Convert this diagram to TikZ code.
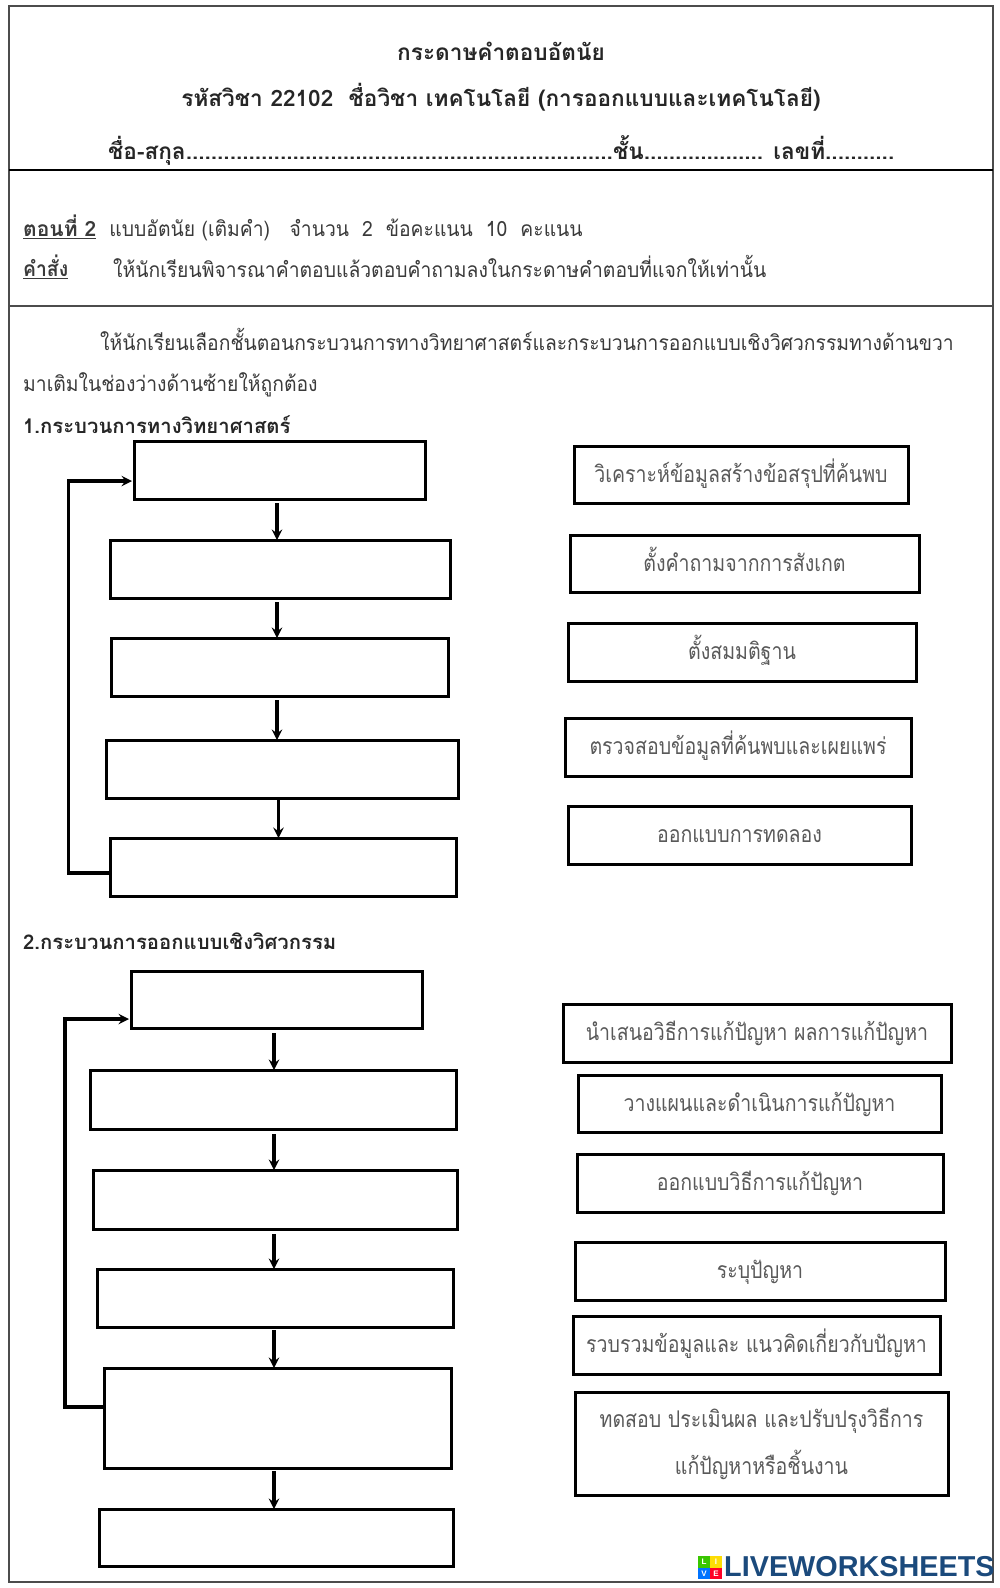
\documentclass[tikz,border=0pt]{standalone}
\usepackage{fontspec}
\setmainfont[Script=Thai]{Loma}
\newfontfamily\corpsfont[Script=Thai,FakeStretch=0.92]{Loma}
\newfontfamily\choixfont[Script=Thai,FakeStretch=0.85]{Loma}
\newfontfamily\logofont{Liberation Sans}
\usetikzlibrary{shapes,arrows,shadows}
\definecolor{encre}{HTML}{3A3A3A}
\definecolor{bleulogo}{HTML}{1B4A7C}

\begin{document}
\begin{tikzpicture}[x=1pt,y=-1pt]
	\tikzstyle{cadre}=[rectangle,draw=black!70,line width=2pt,inner sep=0pt,outer sep=0pt]
	\tikzstyle{vide}=[rectangle,draw=black,line width=3pt,inner sep=0pt,outer sep=0pt]
	\tikzstyle{choix}=[vide,text=black!65,font=\choixfont\fontsize{23}{47}\selectfont,align=center]
	\tikzstyle{choixun}=[choix,text height=21pt,text depth=6pt]
	\tikzstyle{texte}=[inner sep=0pt,text=encre,font=\corpsfont\fontsize{21}{25}\selectfont]
	\tikzstyle{titre}=[inner sep=0pt,text=black!85,font=\bfseries\fontsize{22.6}{26}\selectfont]
	\tikzstyle{soustitre}=[inner sep=0pt,text=black!85,font=\bfseries\fontsize{20.3}{25}\selectfont]
	\tikzstyle{carre}=[rectangle,inner sep=0pt,minimum size=11.5pt,text=white,font=\logofont\bfseries\fontsize{8}{8}\selectfont]

	\useasboundingbox (0,0) rectangle (1000,1588);

	\node[cadre,minimum width=984pt,minimum height=164pt] (entete) at (501,88) {};
	\node[cadre,minimum width=984pt,minimum height=136pt] (consigne) at (501,238) {};
	\node[cadre,minimum width=984pt,minimum height=1276pt] (feuille) at (501,944) {};
	\draw[line width=2.5pt] (entete.south west) -- (entete.south east);

	\node[titre] (t1) at (501,51) {กระดาษคำตอบอัตนัย};
	\node[titre] (t2) at (501,97) {รหัสวิชา 22102\ \ ชื่อวิชา เทคโนโลยี (การออกแบบและเทคโนโลยี)};
	\node[titre] (t3) at (501,150) {ชื่อ-สกุล....................................................................ชั้น................... เลขที่...........};

	\node[texte,anchor=west] (c1) at (23,228) {{\rmfamily\bfseries\underline{ตอนที่ 2}}\ \ แบบอัตนัย (เติมคำ)\ \ \ จำนวน\ \ 2\ \ ข้อคะแนน\ \ 10\ \ คะแนน};
	\node[texte,anchor=west] (c2) at (23,266.5) {\textbf{\underline{คำสั่ง}}};
	\node[texte,anchor=west] (c3) at (113,266.5) {ให้นักเรียนพิจารณาคำตอบแล้วตอบคำถามลงในกระดาษคำตอบที่แจกให้เท่านั้น};
	\node[texte,anchor=west] (c4) at (100,339) {ให้นักเรียนเลือกชั้นตอนกระบวนการทางวิทยาศาสตร์และกระบวนการออกแบบเชิงวิศวกรรมทางด้านขวา};
	\node[texte,anchor=west] (c5) at (23,385) {มาเติมในช่องว่างด้านซ้ายให้ถูกต้อง};

	\node[soustitre,anchor=west] (s1) at (23,425) {1.กระบวนการทางวิทยาศาสตร์};
	\node[soustitre,anchor=west] (s2) at (23,941) {2.กระบวนการออกแบบเชิงวิศวกรรม};

	% premier schema
	\node[vide,minimum width=291pt,minimum height=58pt] (a1) at (279.5,470) {};
	\node[vide,minimum width=340pt,minimum height=58pt] (a2) at (280,569) {};
	\node[vide,minimum width=337pt,minimum height=58pt] (a3) at (279.5,667) {};
	\node[vide,minimum width=352pt,minimum height=58pt] (a4) at (282,769) {};
	\node[vide,minimum width=346pt,minimum height=58pt] (a5) at (283,867) {};

	\node[choixun,minimum width=334pt,minimum height=57pt] (r1) at (741,474.5) {วิเคราะห์ข้อมูลสร้างข้อสรุปที่ค้นพบ};
	\node[choixun,minimum width=349pt,minimum height=57pt] (r2) at (744.5,563.5) {ตั้งคำถามจากการสังเกต};
	\node[choixun,minimum width=348pt,minimum height=58pt] (r3) at (742,652) {ตั้งสมมติฐาน};
	\node[choixun,minimum width=346pt,minimum height=58pt] (r4) at (738,747) {ตรวจสอบข้อมูลที่ค้นพบและเผยแพร่};
	\node[choixun,minimum width=343pt,minimum height=58pt] (r5) at (739.5,835) {ออกแบบการทดลอง};

	% second schema
	\node[vide,minimum width=291pt,minimum height=57pt] (b1) at (276.5,999.5) {};
	\node[vide,minimum width=366pt,minimum height=59pt] (b2) at (273,1099.5) {};
	\node[vide,minimum width=364pt,minimum height=59pt] (b3) at (275,1199.5) {};
	\node[vide,minimum width=356pt,minimum height=58pt] (b4) at (275,1298) {};
	\node[vide,minimum width=347pt,minimum height=100pt] (b5) at (277.5,1418) {};
	\node[vide,minimum width=354pt,minimum height=57pt] (b6) at (276,1537.5) {};

	\node[choixun,minimum width=388pt,minimum height=58pt] (p1) at (757,1033) {นำเสนอวิธีการแก้ปัญหา ผลการแก้ปัญหา};
	\node[choixun,minimum width=363pt,minimum height=57pt] (p2) at (759.5,1103.5) {วางแผนและดำเนินการแก้ปัญหา};
	\node[choixun,minimum width=366pt,minimum height=58pt] (p3) at (760,1183) {ออกแบบวิธีการแก้ปัญหา};
	\node[choixun,minimum width=370pt,minimum height=58pt] (p4) at (760,1271) {ระบุปัญหา};
	\node[choixun,minimum width=367pt,minimum height=58pt] (p5) at (756.5,1345) {รวบรวมข้อมูลและ แนวคิดเกี่ยวกับปัญหา};
	\node[choix,minimum width=373pt,minimum height=103pt] (p6) at (761.5,1443.5) {ทดสอบ ประเมินผล และปรับปรุงวิธีการ\\แก้ปัญหาหรือชิ้นงาน};

	\node[carre,fill=green!55!olive] (l1) at (704,1562) {L};
	\node[carre,fill=yellow!80!orange] (l2) at (716,1562) {I};
	\node[carre,fill=blue!55!cyan] (l3) at (704,1573.5) {V};
	\node[carre,fill=red!85!magenta] (l4) at (716,1573.5) {E};
	\node[anchor=west,inner sep=0pt,text=bleulogo,font=\logofont\bfseries\fontsize{28.8}{30}\selectfont] (logo) at (724,1567) {LIVEWORKSHEETS};

	\tikzstyle{suite}=[->,>=stealth,line width=3.5pt]

	\coordinate (axe1) at (277,0);
	\coordinate (axe2) at (274,0);
	\coordinate (retour1) at (68.5,481);
	\coordinate (retour2) at (65,1019);

	\draw[suite,shorten <=4pt] (a1.south -| axe1) -- (a2.north -| axe1);
	\draw[suite,shorten <=4pt] (a2.south -| axe1) -- (a3.north -| axe1);
	\draw[suite,shorten <=4pt] (a3.south -| axe1) -- (a4.north -| axe1);
	\draw[suite] ([xshift=1.5pt]a4.south -| axe1) -- ([xshift=1.5pt]a5.north -| axe1);

	\draw[suite,shorten <=5pt] (b1.south -| axe2) -- (b2.north -| axe2);
	\draw[suite,shorten <=5pt] (b2.south -| axe2) -- (b3.north -| axe2);
	\draw[suite,shorten <=5pt] (b3.south -| axe2) -- (b4.north -| axe2);
	\draw[suite,shorten <=3pt] (b4.south -| axe2) -- (b5.north -| axe2);
	\draw[suite,shorten <=3pt] (b5.south -| axe2) -- (b6.north -| axe2);

	\draw[suite,shorten >=2pt] ([yshift=-6pt]a5.west) -| (retour1) -- (retour1 -| a1.west);
	\draw[suite,shorten >=2pt] ([yshift=11pt]b5.west) -| (retour2) -- (retour2 -| b1.west);
\end{tikzpicture}
\end{document}
